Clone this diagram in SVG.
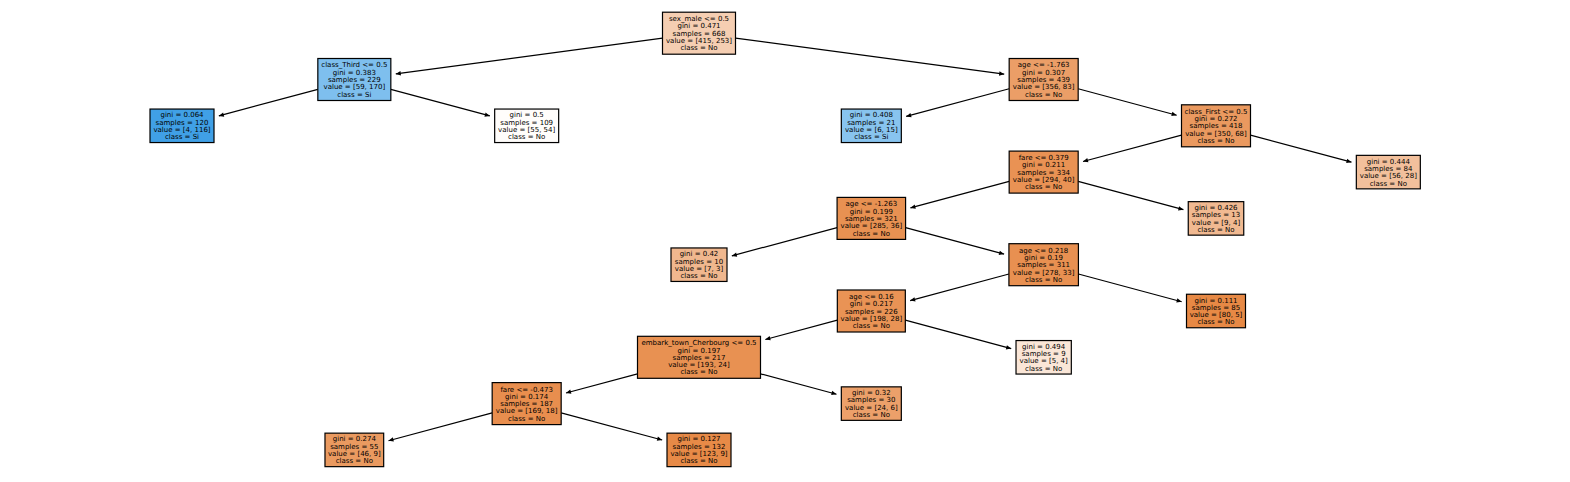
<svg xmlns="http://www.w3.org/2000/svg" width="1570" height="482" viewBox="0 0 1570 482">
<style>
.node rect{stroke:#000;stroke-width:1.2}
.node text{font-family:"DejaVu Sans","Liberation Sans",sans-serif;font-size:7px;fill:#000;text-anchor:middle}
#edges line{stroke:#000;stroke-width:1.2;marker-end:url(#ah)}
</style>
<defs>
<marker id="ah" viewBox="-6 -3 7 6" refX="0" refY="0" markerWidth="7" markerHeight="6" orient="auto" markerUnits="userSpaceOnUse">
<path d="M-5,-2.2 L0,0 L-5,2.2 Z" fill="#000"/>
</marker>
</defs>
<rect width="1570" height="482" fill="#fff"/>
<g id="edges">
<line x1="662.5" y1="38.1" x2="395.79" y2="73.93"/>
<line x1="735.5" y1="38.1" x2="1004.21" y2="74.2"/>
<line x1="317.83" y1="89.31" x2="218.83" y2="115.9"/>
<line x1="390.83" y1="89.31" x2="489.84" y2="115.9"/>
<line x1="1009.17" y1="88.77" x2="906.16" y2="116.44"/>
<line x1="1078.17" y1="88.77" x2="1176.67" y2="115.23"/>
<line x1="1181.5" y1="135.07" x2="1083.0" y2="161.53"/>
<line x1="1250.5" y1="135.07" x2="1351.5" y2="162.2"/>
<line x1="1009.17" y1="181.37" x2="910.41" y2="207.9"/>
<line x1="1078.17" y1="181.37" x2="1183.42" y2="209.65"/>
<line x1="837.08" y1="227.6" x2="731.83" y2="255.88"/>
<line x1="905.58" y1="227.6" x2="1004.09" y2="254.07"/>
<line x1="1008.92" y1="274.04" x2="910.16" y2="300.57"/>
<line x1="1078.42" y1="274.04" x2="1181.67" y2="301.78"/>
<line x1="837.33" y1="320.13" x2="765.33" y2="339.48"/>
<line x1="905.33" y1="320.13" x2="1011.19" y2="348.57"/>
<line x1="637.5" y1="373.82" x2="566.0" y2="393.03"/>
<line x1="760.5" y1="373.82" x2="836.5" y2="394.24"/>
<line x1="492.17" y1="412.87" x2="388.51" y2="440.72"/>
<line x1="561.17" y1="412.87" x2="662.17" y2="440.0"/>
</g>
<g id="n0" class="node"><rect x="662.5" y="12.2" width="73" height="42" fill="#f5ceb2"/>
<text><tspan x="699" y="21.1">sex_male &lt;= 0.5</tspan><tspan x="699" y="28.4">gini = 0.471</tspan><tspan x="699" y="35.7">samples = 668</tspan><tspan x="699" y="43.0">value = [415, 253]</tspan><tspan x="699" y="50.3">class = No</tspan></text></g>
<g id="n1" class="node"><rect x="317.83" y="58.5" width="73" height="42" fill="#7ebfee"/>
<text><tspan x="354.33" y="67.4">class_Third &lt;= 0.5</tspan><tspan x="354.33" y="74.7">gini = 0.383</tspan><tspan x="354.33" y="82.0">samples = 229</tspan><tspan x="354.33" y="89.3">value = [59, 170]</tspan><tspan x="354.33" y="96.6">class = Si</tspan></text></g>
<g id="n2" class="node"><rect x="150" y="109.05" width="64" height="33.5" fill="#40a0e6"/>
<text><tspan x="182" y="117.35">gini = 0.064</tspan><tspan x="182" y="124.65">samples = 120</tspan><tspan x="182" y="131.95">value = [4, 116]</tspan><tspan x="182" y="139.25">class = Si</tspan></text></g>
<g id="n3" class="node"><rect x="494.67" y="109.05" width="64" height="33.5" fill="#fffdfb"/>
<text><tspan x="526.67" y="117.35">gini = 0.5</tspan><tspan x="526.67" y="124.65">samples = 109</tspan><tspan x="526.67" y="131.95">value = [55, 54]</tspan><tspan x="526.67" y="139.25">class = No</tspan></text></g>
<g id="n4" class="node"><rect x="1009.17" y="58.5" width="69" height="42" fill="#eb9e67"/>
<text><tspan x="1043.67" y="67.4">age &lt;= -1.763</tspan><tspan x="1043.67" y="74.7">gini = 0.307</tspan><tspan x="1043.67" y="82.0">samples = 439</tspan><tspan x="1043.67" y="89.3">value = [356, 83]</tspan><tspan x="1043.67" y="96.6">class = No</tspan></text></g>
<g id="n5" class="node"><rect x="841.33" y="109.05" width="60" height="33.5" fill="#88c4ef"/>
<text><tspan x="871.33" y="117.35">gini = 0.408</tspan><tspan x="871.33" y="124.65">samples = 21</tspan><tspan x="871.33" y="131.95">value = [6, 15]</tspan><tspan x="871.33" y="139.25">class = Si</tspan></text></g>
<g id="n6" class="node"><rect x="1181.5" y="104.8" width="69" height="42" fill="#ea995f"/>
<text><tspan x="1216" y="113.7">class_First &lt;= 0.5</tspan><tspan x="1216" y="121.0">gini = 0.272</tspan><tspan x="1216" y="128.3">samples = 418</tspan><tspan x="1216" y="135.6">value = [350, 68]</tspan><tspan x="1216" y="142.9">class = No</tspan></text></g>
<g id="n7" class="node"><rect x="1009.17" y="151.1" width="69" height="42" fill="#e99254"/>
<text><tspan x="1043.67" y="160.0">fare &lt;= 0.379</tspan><tspan x="1043.67" y="167.3">gini = 0.211</tspan><tspan x="1043.67" y="174.6">samples = 334</tspan><tspan x="1043.67" y="181.9">value = [294, 40]</tspan><tspan x="1043.67" y="189.2">class = No</tspan></text></g>
<g id="n8" class="node"><rect x="1356.33" y="155.35" width="64" height="33.5" fill="#f2c09c"/>
<text><tspan x="1388.33" y="163.65">gini = 0.444</tspan><tspan x="1388.33" y="170.95">samples = 84</tspan><tspan x="1388.33" y="178.25">value = [56, 28]</tspan><tspan x="1388.33" y="185.55">class = No</tspan></text></g>
<g id="n9" class="node"><rect x="837.08" y="197.4" width="68.5" height="42" fill="#e89152"/>
<text><tspan x="871.33" y="206.3">age &lt;= -1.263</tspan><tspan x="871.33" y="213.6">gini = 0.199</tspan><tspan x="871.33" y="220.9">samples = 321</tspan><tspan x="871.33" y="228.2">value = [285, 36]</tspan><tspan x="871.33" y="235.5">class = No</tspan></text></g>
<g id="n10" class="node"><rect x="1188.25" y="201.65" width="55.5" height="33.5" fill="#f1b991"/>
<text><tspan x="1216" y="209.95">gini = 0.426</tspan><tspan x="1216" y="217.25">samples = 13</tspan><tspan x="1216" y="224.55">value = [9, 4]</tspan><tspan x="1216" y="231.85">class = No</tspan></text></g>
<g id="n11" class="node"><rect x="671" y="247.95" width="56" height="33.5" fill="#f0b78e"/>
<text><tspan x="699" y="256.25">gini = 0.42</tspan><tspan x="699" y="263.55">samples = 10</tspan><tspan x="699" y="270.85">value = [7, 3]</tspan><tspan x="699" y="278.15">class = No</tspan></text></g>
<g id="n12" class="node"><rect x="1008.92" y="243.7" width="69.5" height="42" fill="#e89051"/>
<text><tspan x="1043.67" y="252.6">age &lt;= 0.218</tspan><tspan x="1043.67" y="259.9">gini = 0.19</tspan><tspan x="1043.67" y="267.2">samples = 311</tspan><tspan x="1043.67" y="274.5">value = [278, 33]</tspan><tspan x="1043.67" y="281.8">class = No</tspan></text></g>
<g id="n13" class="node"><rect x="837.33" y="290" width="68" height="42" fill="#e99355"/>
<text><tspan x="871.33" y="298.9">age &lt;= 0.16</tspan><tspan x="871.33" y="306.2">gini = 0.217</tspan><tspan x="871.33" y="313.5">samples = 226</tspan><tspan x="871.33" y="320.8">value = [198, 28]</tspan><tspan x="871.33" y="328.1">class = No</tspan></text></g>
<g id="n14" class="node"><rect x="1186.5" y="294.25" width="59" height="33.5" fill="#e78945"/>
<text><tspan x="1216" y="302.55">gini = 0.111</tspan><tspan x="1216" y="309.85">samples = 85</tspan><tspan x="1216" y="317.15">value = [80, 5]</tspan><tspan x="1216" y="324.45">class = No</tspan></text></g>
<g id="n15" class="node"><rect x="637.5" y="336.3" width="123" height="42" fill="#e89152"/>
<text><tspan x="699" y="345.2">embark_town_Cherbourg &lt;= 0.5</tspan><tspan x="699" y="352.5">gini = 0.197</tspan><tspan x="699" y="359.8">samples = 217</tspan><tspan x="699" y="367.1">value = [193, 24]</tspan><tspan x="699" y="374.4">class = No</tspan></text></g>
<g id="n16" class="node"><rect x="1016.02" y="340.55" width="55.3" height="33.5" fill="#fae6d7"/>
<text><tspan x="1043.67" y="348.85">gini = 0.494</tspan><tspan x="1043.67" y="356.15">samples = 9</tspan><tspan x="1043.67" y="363.45">value = [5, 4]</tspan><tspan x="1043.67" y="370.75">class = No</tspan></text></g>
<g id="n17" class="node"><rect x="492.17" y="382.6" width="69" height="42" fill="#e88e4e"/>
<text><tspan x="526.67" y="391.5">fare &lt;= -0.473</tspan><tspan x="526.67" y="398.8">gini = 0.174</tspan><tspan x="526.67" y="406.1">samples = 187</tspan><tspan x="526.67" y="413.4">value = [169, 18]</tspan><tspan x="526.67" y="420.7">class = No</tspan></text></g>
<g id="n18" class="node"><rect x="841.33" y="386.85" width="60" height="33.5" fill="#eca06a"/>
<text><tspan x="871.33" y="395.15">gini = 0.32</tspan><tspan x="871.33" y="402.45">samples = 30</tspan><tspan x="871.33" y="409.75">value = [24, 6]</tspan><tspan x="871.33" y="417.05">class = No</tspan></text></g>
<g id="n19" class="node"><rect x="324.98" y="433.15" width="58.7" height="33.5" fill="#ea9a60"/>
<text><tspan x="354.33" y="441.45">gini = 0.274</tspan><tspan x="354.33" y="448.75">samples = 55</tspan><tspan x="354.33" y="456.05">value = [46, 9]</tspan><tspan x="354.33" y="463.35">class = No</tspan></text></g>
<g id="n20" class="node"><rect x="667" y="433.15" width="64" height="33.5" fill="#e78a47"/>
<text><tspan x="699" y="441.45">gini = 0.127</tspan><tspan x="699" y="448.75">samples = 132</tspan><tspan x="699" y="456.05">value = [123, 9]</tspan><tspan x="699" y="463.35">class = No</tspan></text></g>
</svg>
